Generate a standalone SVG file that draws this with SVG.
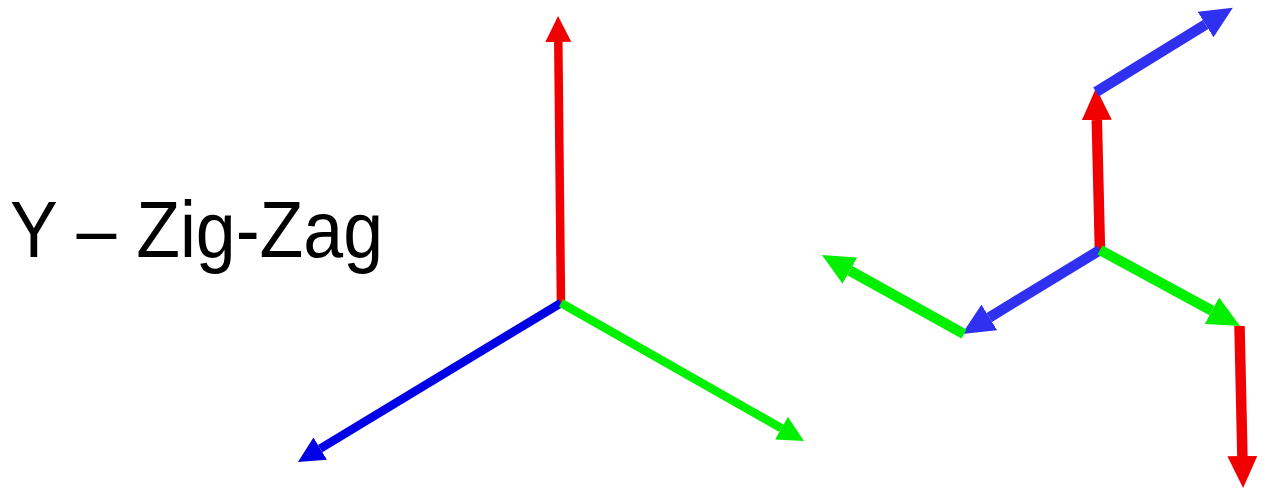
<svg xmlns="http://www.w3.org/2000/svg" width="1287" height="494" viewBox="0 0 1287 494">
<style>
.t{font-family:"Liberation Sans",Arial,sans-serif;font-size:79px;fill:#000}
.a{fill:none;stroke-linecap:butt}
.l{stroke-width:8.5}
.r2{stroke-width:10.5}
.red{stroke:#f00000}
.grn{stroke:#00f000}
.blu{stroke:#0000e6}
.blu2{stroke:#3030f0}
</style>
<defs>
<marker id="hr" markerUnits="userSpaceOnUse" markerWidth="26" markerHeight="26" refX="0" refY="13" orient="auto" viewBox="0 0 26 26"><path d="M0,0L26,13L0,26Z" fill="#f00000"/></marker>
<marker id="hg" markerUnits="userSpaceOnUse" markerWidth="26" markerHeight="26" refX="0" refY="13" orient="auto" viewBox="0 0 26 26"><path d="M0,0L26,13L0,26Z" fill="#00f000"/></marker>
<marker id="hb" markerUnits="userSpaceOnUse" markerWidth="26" markerHeight="26" refX="0" refY="13" orient="auto" viewBox="0 0 26 26"><path d="M0,0L26,13L0,26Z" fill="#0000e6"/></marker>
<marker id="Hr" markerUnits="userSpaceOnUse" markerWidth="32" markerHeight="30" refX="0" refY="15" orient="auto" viewBox="0 0 32 30"><path d="M0,0L32,15L0,30Z" fill="#f00000"/></marker>
<marker id="Hg" markerUnits="userSpaceOnUse" markerWidth="32" markerHeight="30" refX="0" refY="15" orient="auto" viewBox="0 0 32 30"><path d="M0,0L32,15L0,30Z" fill="#00f000"/></marker>
<marker id="Hb" markerUnits="userSpaceOnUse" markerWidth="32" markerHeight="30" refX="0" refY="15" orient="auto" viewBox="0 0 32 30"><path d="M0,0L32,15L0,30Z" fill="#3030f0"/></marker>
</defs>
<g id="title"><text class="t" x="10" y="257" textLength="373" lengthAdjust="spacingAndGlyphs">Y – Zig-Zag</text></g>
<g id="connectors">
<g id="wye">
<line class="a l red" x1="561" y1="307" x2="558.3" y2="42" marker-end="url(#hr)"/>
<line class="a l blu" x1="561" y1="303" x2="320.2" y2="448.6" marker-end="url(#hb)"/>
<line class="a l grn" x1="561" y1="303" x2="781.4" y2="428.2" marker-end="url(#hg)"/>
</g>
<g id="zigzag">
<line class="a r2 red" x1="1100" y1="252" x2="1096.8" y2="120" marker-end="url(#Hr)"/>
<line class="a r2 blu2" x1="1096" y1="92" x2="1205.6" y2="24.5" marker-end="url(#Hb)"/>
<line class="a r2 blu2" x1="1100" y1="250" x2="989.3" y2="317.4" marker-end="url(#Hb)"/>
<line class="a r2 grn" x1="964" y1="334" x2="849.9" y2="270.6" marker-end="url(#Hg)"/>
<line class="a r2 grn" x1="1100" y1="250" x2="1211.9" y2="310.7" marker-end="url(#Hg)"/>
<line class="a r2 red" x1="1239.5" y1="326" x2="1242.4" y2="456" marker-end="url(#Hr)"/>
</g>
</g>
</svg>
